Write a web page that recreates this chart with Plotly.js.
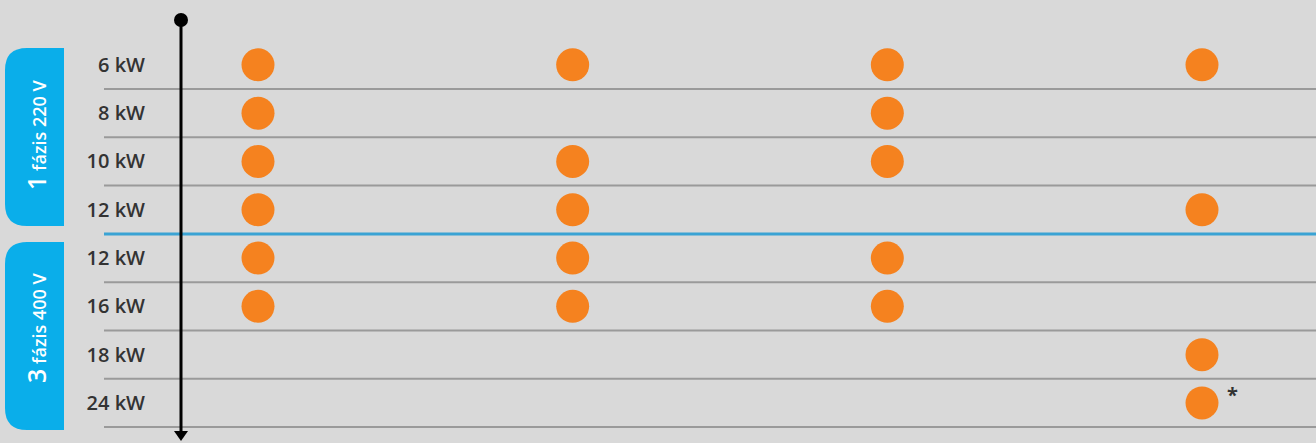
<!DOCTYPE html>
<html>
<head>
<meta charset="utf-8">
<script src="https://cdn.plot.ly/plotly-3.0.1.min.js"></script>
<style>
html,body{margin:0;padding:0;background:#d9d9d9;}
#chart{width:1316px;height:443px;}
</style>
</head>
<body>
<div id="chart"></div>
<script>
// ---- data ----
const rowLabels = ["6 kW", "8 kW", "10 kW", "12 kW", "12 kW", "16 kW", "18 kW", "24 kW"];
const groupLabels = ["1 fázis 220 V", "3 fázis 400 V"];
const groupRows = [[0, 1, 2, 3], [4, 5, 6, 7]];
const columns = [0, 1, 2, 3];
const col1 = [1, 1, 1, 1, 1, 1, 0, 0];
const col2 = [1, 0, 1, 1, 1, 1, 0, 0];
const col3 = [1, 1, 1, 0, 1, 1, 0, 0];
const col4 = [1, 0, 0, 1, 0, 0, 1, 1];
const footnoteRow = 7; // "*" next to 24 kW in the last column

// ---- build ----
const W = 1316, H = 443, L = 150;
const availability = [col1, col2, col3, col4];
const xs = [], ys = [];
availability.forEach((col, ci) => {
  col.forEach((v, ri) => { if (v) { xs.push(columns[ci]); ys.push(ri); } });
});

const px = p => (p - L) / (W - L);
const py = p => (H - p) / H;

function tab(x0, y0, x1, y1, r) {
  return `M ${px(x1)} ${py(y0)} L ${px(x0 + r)} ${py(y0)} Q ${px(x0)} ${py(y0)} ${px(x0)} ${py(y0 + r)} ` +
         `L ${px(x0)} ${py(y1 - r)} Q ${px(x0)} ${py(y1)} ${px(x0 + r)} ${py(y1)} L ${px(x1)} ${py(y1)} Z`;
}

const shapes = [];
for (let i = 0; i < rowLabels.length; i++) {
  const boundary = i + 0.5;
  const isGroupBreak = i === groupRows[0][groupRows[0].length - 1];
  shapes.push({
    type: "line", xref: "paper", yref: "y",
    x0: px(104), x1: 1, y0: boundary, y1: boundary,
    line: { color: isGroupBreak ? "#3aa3d4" : "#9a9a9a", width: isGroupBreak ? 3 : 2 },
    layer: "below"
  });
}
shapes.push({ type: "line", xref: "paper", yref: "paper", x0: px(181), x1: px(181), y0: py(20), y1: py(433),
  line: { color: "#000", width: 3 } });
shapes.push({ type: "circle", xref: "paper", yref: "paper",
  x0: px(174), x1: px(188), y0: py(27), y1: py(13), fillcolor: "#000", line: { width: 0 } });
shapes.push({ type: "path", xref: "paper", yref: "paper",
  path: `M ${px(174)} ${py(431)} L ${px(188)} ${py(431)} L ${px(181)} ${py(441)} Z`,
  fillcolor: "#000", line: { width: 0 } });
shapes.push({ type: "path", xref: "paper", yref: "paper", path: tab(5, 48, 64, 226, 22),
  fillcolor: "#0aaeea", line: { width: 0 } });
shapes.push({ type: "path", xref: "paper", yref: "paper", path: tab(5, 242, 64, 430, 22),
  fillcolor: "#0aaeea", line: { width: 0 } });

function groupText(s) {
  const sp = s.indexOf(" ");
  return `<span style="font-size:25px">${s.slice(0, sp)}</span> ${s.slice(sp + 1)}`;
}

const annotations = [
  { xref: "paper", yref: "paper", x: px(36), y: py(135), xanchor: "center", yanchor: "middle",
    text: groupText(groupLabels[0]), textangle: -90,
    showarrow: false, font: { family: "Open Sans", size: 18, color: "#ffffff", weight: 600 } },
  { xref: "paper", yref: "paper", x: px(36), y: py(328), xanchor: "center", yanchor: "middle",
    text: groupText(groupLabels[1]), textangle: -90,
    showarrow: false, font: { family: "Open Sans", size: 18, color: "#ffffff", weight: 600 } },
  { xref: "x", yref: "y", x: columns[3], y: footnoteRow, xshift: 30, yshift: 8, text: "*",
    showarrow: false, font: { family: "Open Sans", size: 20, color: "#333", weight: 700 } }
];

const colPx = [258, 1202];
const unit = (colPx[1] - colPx[0]) / 3;
const rowTop = 64.85, rowH = 48.3;

Plotly.newPlot("chart", [{
  type: "scatter", mode: "markers", x: xs, y: ys,
  marker: { size: 33, color: "#f5821f" }, hoverinfo: "skip", showlegend: false
}], {
  width: W, height: H,
  margin: { l: L, r: 0, t: 0, b: 0 },
  paper_bgcolor: "#d9d9d9", plot_bgcolor: "rgba(0,0,0,0)",
  xaxis: { range: [(L - colPx[0]) / unit, 3 + (W - colPx[1]) / unit], showgrid: false, zeroline: false,
    showticklabels: false, showline: false },
  yaxis: { range: [(H - rowTop) / rowH, -rowTop / rowH], showgrid: false, zeroline: false, showline: false,
    tickvals: rowLabels.map((_, i) => i), ticktext: rowLabels, ticks: "", ticklabelstandoff: 4,
    tickfont: { family: "Open Sans", size: 20, color: "#333", weight: 600 } },
  shapes, annotations
}, { staticPlot: true });
</script>
</body>
</html>
